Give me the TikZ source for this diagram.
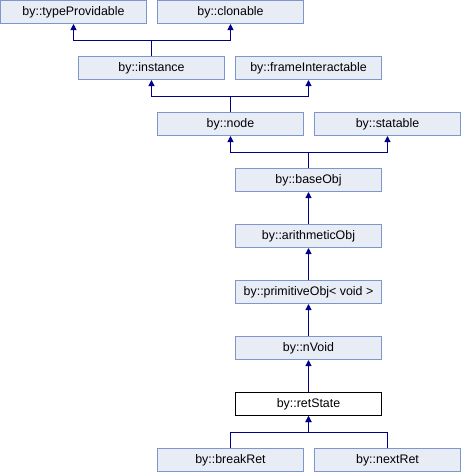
\documentclass[tikz,border=0pt]{standalone}
\usepackage{fontspec}
\setmainfont{Liberation Sans}
\usetikzlibrary{arrows.meta}
\definecolor{boxfill}{RGB}{232,236,244}
\definecolor{boxline}{RGB}{125,150,204}
\definecolor{edgecol}{RGB}{0,0,136}
\tikzset{
  cls/.style={draw=boxline, fill=boxfill, line width=1pt, minimum width=146pt, minimum height=23pt, inner sep=0pt, font=\fontsize{12.4pt}{14pt}\selectfont},
  cur/.style={cls, draw=black, fill=white},
  inh/.style={draw=edgecol, line width=1pt, -{Triangle[width=6pt,length=6pt]}},
}
\begin{document}
\begin{tikzpicture}[x=1pt,y=-1pt]
\useasboundingbox (0,0) rectangle (461,472);
\node[cls] (tp) at (73.5,12) {by::typeProvidable};
\node[cls] (cl) at (230.5,12) {by::clonable};
\node[cls] (inst) at (151.5,68) {by::instance};
\node[cls] (fi) at (308.5,68) {by::frameInteractable};
\node[cls] (nd) at (230.5,124) {by::node};
\node[cls] (st) at (387.5,124) {by::statable};
\node[cls] (base) at (308.5,180) {by::baseObj};
\node[cls] (arith) at (308.5,236) {by::arithmeticObj};
\node[cls] (prim) at (308.5,292) {by::primitiveObj< void >};
\node[cls] (nv) at (308.5,348) {by::nVoid};
\node[cur] (ret) at (308.5,404) {by::retState};
\node[cls] (brk) at (230.5,460) {by::breakRet};
\node[cls] (nxt) at (387.5,460) {by::nextRet};
% edges
\draw[inh] (inst.north) -- ++(0,-16) -| (tp.south);
\draw[inh] (inst.north) -- ++(0,-16) -| (cl.south);
\draw[inh] (nd.north) -- ++(0,-16) -| (inst.south);
\draw[inh] (nd.north) -- ++(0,-16) -| (fi.south);
\draw[inh] (base.north) -- ++(0,-16) -| (nd.south);
\draw[inh] (base.north) -- ++(0,-16) -| (st.south);
\draw[inh] (arith) -- (base);
\draw[inh] (prim) -- (arith);
\draw[inh] (nv) -- (prim);
\draw[inh] (ret) -- (nv);
\draw[inh] (brk.north) -- ++(0,-16) -| (ret.south);
\draw[inh] (nxt.north) -- ++(0,-16) -| (ret.south);
\end{tikzpicture}
\end{document}
